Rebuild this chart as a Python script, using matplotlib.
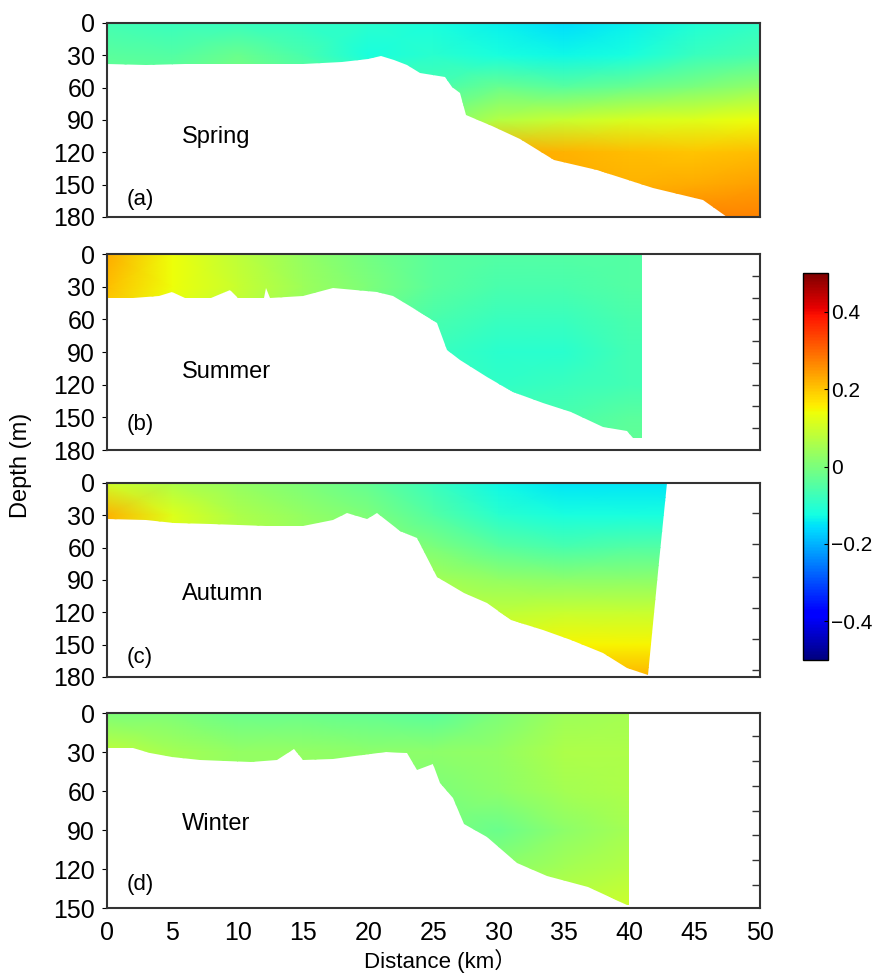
import numpy as np
import matplotlib.pyplot as plt
from matplotlib.patches import Polygon
from matplotlib.colors import Normalize
from matplotlib.cm import ScalarMappable

plt.rcParams['font.family'] = ['Liberation Sans', 'Noto Sans CJK SC', 'DejaVu Sans']

# grid stations (km) and depth levels (m)
dist = [0, 5, 10, 15, 20, 25, 30, 35, 40, 45, 50]
depth_180 = [0, 30, 60, 90, 120, 150, 180]
depth_150 = [0, 30, 60, 90, 120, 150]

spring = [
    [-0.07, -0.08, -0.08, -0.09, -0.10, -0.12, -0.14, -0.16, -0.14, -0.11, -0.09],
    [-0.04, -0.05, -0.02, -0.06, -0.12, -0.10, -0.12, -0.13, -0.12, -0.08, -0.06],
    [-0.02, -0.02, 0.00, -0.02, -0.05, -0.06, -0.02, -0.04, -0.02, 0.00, 0.03],
    [0.04, 0.04, 0.04, 0.04, 0.04, 0.00, 0.07, 0.09, 0.11, 0.12, 0.14],
    [0.18, 0.18, 0.18, 0.18, 0.18, 0.20, 0.23, 0.22, 0.21, 0.20, 0.21],
    [0.22, 0.22, 0.22, 0.22, 0.22, 0.23, 0.23, 0.23, 0.22, 0.23, 0.24],
    [0.24, 0.24, 0.24, 0.24, 0.24, 0.24, 0.24, 0.25, 0.25, 0.27, 0.27],
]
summer = [
    [0.23, 0.14, 0.08, 0.03, -0.01, -0.04, -0.05, -0.05, -0.05, -0.05, -0.05],
    [0.21, 0.14, 0.09, 0.04, 0.00, -0.04, -0.06, -0.06, -0.05, -0.05, -0.05],
    [0.18, 0.12, 0.08, 0.03, -0.02, -0.06, -0.08, -0.08, -0.06, -0.06, -0.06],
    [0.15, 0.10, 0.06, 0.02, -0.03, -0.08, -0.10, -0.10, -0.07, -0.07, -0.07],
    [0.12, 0.08, 0.05, 0.01, -0.03, -0.07, -0.09, -0.08, -0.07, -0.07, -0.07],
    [0.10, 0.06, 0.04, 0.01, -0.03, -0.06, -0.06, -0.06, -0.04, -0.04, -0.04],
    [0.08, 0.05, 0.03, 0.00, -0.03, -0.05, -0.05, -0.04, -0.03, -0.03, -0.03],
]
autumn = [
    [0.10, 0.06, 0.03, 0.00, -0.03, -0.08, -0.13, -0.15, -0.15, -0.15, -0.15],
    [0.22, 0.12, 0.06, 0.03, 0.00, -0.05, -0.10, -0.12, -0.12, -0.12, -0.12],
    [0.20, 0.12, 0.07, 0.04, 0.02, 0.00, -0.04, -0.06, -0.05, -0.05, -0.05],
    [0.18, 0.12, 0.08, 0.06, 0.06, 0.05, 0.03, 0.02, 0.02, 0.02, 0.02],
    [0.18, 0.13, 0.10, 0.09, 0.09, 0.08, 0.08, 0.09, 0.09, 0.09, 0.09],
    [0.20, 0.15, 0.13, 0.12, 0.12, 0.12, 0.13, 0.15, 0.15, 0.15, 0.15],
    [0.22, 0.18, 0.16, 0.16, 0.16, 0.17, 0.19, 0.22, 0.22, 0.22, 0.22],
]
winter = [
    [0.00, 0.00, -0.02, -0.02, -0.03, -0.04, 0.00, 0.04, 0.05, 0.05, 0.05],
    [0.08, 0.05, 0.03, 0.03, 0.02, 0.02, 0.03, 0.06, 0.06, 0.06, 0.06],
    [0.07, 0.05, 0.03, 0.03, 0.02, 0.00, 0.02, 0.05, 0.06, 0.06, 0.06],
    [0.06, 0.05, 0.03, 0.02, 0.01, 0.00, -0.02, 0.02, 0.05, 0.05, 0.05],
    [0.06, 0.05, 0.04, 0.03, 0.02, 0.02, 0.02, 0.05, 0.07, 0.07, 0.07],
    [0.07, 0.06, 0.05, 0.05, 0.05, 0.06, 0.07, 0.08, 0.10, 0.10, 0.10],
]

# sea-floor profiles (km, m)
spring_bx = [0, 3, 6, 9, 12, 15, 18, 20, 21, 22, 23, 24, 25.9, 26.4, 27, 27.5, 29.5, 31.6, 34.2, 37.5, 41.8, 45.6, 47.5, 50]
spring_bz = [38, 39, 38, 38, 38, 38, 36, 33, 31, 34, 39, 46, 50, 59, 65, 85, 96, 108, 127, 136, 153, 164, 180, 180]
summer_bx = [0, 2, 4, 5, 6, 8, 9.4, 10, 12, 12.2, 12.5, 15, 17.3, 20.7, 21.9, 23.4, 25.3, 26, 27, 29.1, 31.1, 33.4, 35.5, 38, 39.8, 40.3, 41.0]
summer_bz = [40, 40, 39, 35, 40, 40, 33, 40, 40, 31, 40, 39, 31, 35, 39, 50, 63, 88, 97, 113, 127, 137, 145, 159, 163, 169, 169]
autumn_bx = [0, 3, 5.1, 8, 12.2, 15, 17.3, 18.4, 19.9, 20.7, 22.4, 23.7, 25.3, 27.3, 29.1, 30.9, 33.4, 35.5, 38, 39.8, 41.4]
autumn_bz = [33, 34, 37, 38, 40, 40, 34, 28, 33, 28, 45, 51, 87, 102, 111, 127, 136, 146, 158, 172, 178]
winter_bx = [0, 2, 3.3, 5, 7.1, 9, 11, 13, 14.3, 15, 17.3, 19, 21.4, 23, 23.7, 25, 25.5, 26.5, 27.3, 29.1, 31.4, 33.7, 36.8, 39.8, 40.0]
winter_bz = [27, 27, 31, 34, 36, 37, 38, 36, 28, 36, 35, 33, 30, 31, 44, 39, 54, 65, 85, 95, 115, 125, 134, 148, 148]

# right-hand boundary of each section (top to bottom)
spring_ex, spring_ez = [50, 50], [0, 180]
summer_ex, summer_ez = [41.0, 41.0], [0, 169]
autumn_ex, autumn_ez = [42.9, 42.3], [0, 73]
winter_ex, winter_ez = [40.0, 40.0], [0, 148]

names = ['Spring', 'Summer', 'Autumn', 'Winter']
letters = ['(a)', '(b)', '(c)', '(d)']
fields = [spring, summer, autumn, winter]
depths = [depth_180, depth_180, depth_180, depth_150]
bottoms = [(spring_bx, spring_bz), (summer_bx, summer_bz), (autumn_bx, autumn_bz), (winter_bx, winter_bz)]
edges = [(spring_ex, spring_ez), (summer_ex, summer_ez), (autumn_ex, autumn_ez), (winter_ex, winter_ez)]
right_ticks = [[], [20, 40, 60, 80, 100, 120, 140, 160], [28, 57, 87, 116, 145, 174],
               [18, 37, 56, 75, 94, 113, 132]]

norm = Normalize(-0.5, 0.5)
cmap = plt.get_cmap('jet')

fig = plt.figure(figsize=(8.8, 9.77), dpi=100)
boxes = [[0.1216, 0.7779, 0.742, 0.1986],
         [0.1216, 0.5394, 0.742, 0.2006],
         [0.1216, 0.3071, 0.742, 0.1986],
         [0.1216, 0.0706, 0.742, 0.1996]]
label_y = [0.41, 0.40, 0.43, 0.43]
letter_y = [0.09, 0.13, 0.10, 0.12]

for i in range(4):
    ax = fig.add_axes(boxes[i])
    zmax = depths[i][-1]
    X, Z = np.meshgrid(dist, depths[i])
    mesh = ax.pcolormesh(X, Z, np.array(fields[i]), cmap=cmap, norm=norm, shading='gouraud')
    bx, bz = bottoms[i]
    ex, ez = edges[i]
    verts = [(0, 0)] + list(zip(ex, ez)) + list(zip(bx[::-1], bz[::-1]))
    water = Polygon(verts, closed=True, transform=ax.transData)
    mesh.set_clip_path(water)

    ax.set_xlim(0, 50)
    ax.set_ylim(zmax, 0)
    ax.set_yticks(depths[i])
    ax.set_xticks(range(0, 51, 5))
    ax.tick_params(axis='y', left=False, labelsize=18, pad=5)
    ax.tick_params(axis='x', bottom=False, labelsize=18, pad=6)
    if i < 3:
        ax.tick_params(axis='x', labelbottom=False)
    for s in ax.spines.values():
        s.set_color('#333333')
        s.set_linewidth(1.5)

    rax = ax.twinx()
    rax.set_ylim(zmax, 0)
    rax.set_yticks(right_ticks[i])
    rax.tick_params(axis='y', direction='in', length=6, width=1, color='#333333', labelright=False)
    for s in rax.spines.values():
        s.set_visible(False)

    ax.text(0.115, label_y[i], names[i], transform=ax.transAxes, fontsize=17, va='center')
    ax.text(0.03, letter_y[i], letters[i], transform=ax.transAxes, fontsize=16, va='center')

cax = fig.add_axes([0.9125, 0.3245, 0.0284, 0.396])
cb = fig.colorbar(ScalarMappable(norm=norm, cmap=cmap), cax=cax, ticks=[-0.4, -0.2, 0, 0.2, 0.4])
cb.ax.set_yticklabels(['\u22120.4', '\u22120.2', '0', '0.2', '0.4'])
cb.ax.tick_params(labelsize=15, direction='in', length=3, pad=2)
cb.outline.set_linewidth(1)

fig.text(0.024, 0.524, 'Depth (m)', rotation=90, fontsize=17, ha='center', va='center')
fig.text(0.50, 0.004, 'Distance (km\uff09', fontsize=16, ha='center', va='bottom')

fig.savefig('out.png', dpi=100)
